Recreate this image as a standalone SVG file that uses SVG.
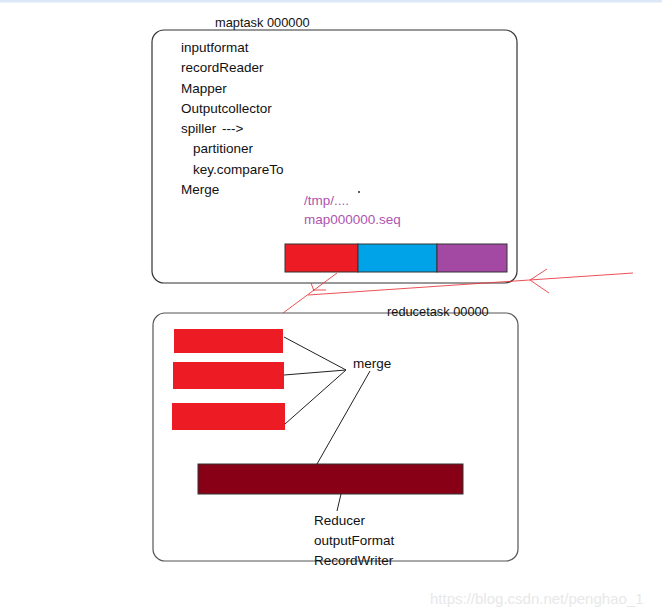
<svg xmlns="http://www.w3.org/2000/svg" width="662" height="614" viewBox="0 0 662 614">
<style>
text{font-family:"Liberation Sans",Arial,sans-serif;font-size:13.5px;fill:#111}
.t{font-size:12.8px}
.p{fill:#ad55b0}
.box{fill:#fff;stroke:#333;stroke-width:1.2}
.bar{stroke:#333;stroke-width:1}
.k{stroke:#222;stroke-width:1;fill:none}
.r{stroke:#e8323a;stroke-width:1;fill:none;opacity:0.85}
</style>
<rect x="0" y="0" width="662" height="614" fill="#fff"/>
<rect x="0" y="0" width="662" height="2.5" fill="#dce8f5"/>
<g id="maptask">
<rect class="box" x="152" y="30" width="365" height="253" rx="12"/>
<text class="t" x="215" y="27">maptask 000000</text>
<text x="181" y="52">inputformat</text>
<text x="181" y="72">recordReader</text>
<text x="181" y="93">Mapper</text>
<text x="181" y="113">Outputcollector</text>
<text x="181" y="133">spiller<tspan x="222">---&gt;</tspan></text>
<text x="193" y="153">partitioner</text>
<text x="193" y="174">key.compareTo</text>
<text x="181" y="194">Merge</text>
<circle cx="359" cy="192" r="0.9" fill="#111"/>
<text class="p" x="304" y="205">/tmp/....</text>
<text class="p" x="304" y="224">map000000.seq</text>
</g>
<g id="spillfile">
<rect class="bar" x="285" y="244" width="73" height="28" fill="#ed1c24"/>
<rect class="bar" x="358" y="244" width="79" height="28" fill="#00a2e8"/>
<rect class="bar" x="437" y="244" width="70" height="28" fill="#a349a4"/>
</g>
<g id="reducetask">
<rect class="box" x="153" y="313" width="365" height="248" rx="12" style="stroke:#555"/>
<text class="t" x="387" y="316">reducetask 00000</text>
<rect x="174" y="329" width="109" height="24" fill="#ed1c24"/>
<rect x="173" y="362" width="111" height="27" fill="#ed1c24"/>
<rect x="172" y="403" width="113" height="27" fill="#ed1c24"/>
<text x="353" y="368">merge</text>
<rect x="198" y="464" width="265" height="30" fill="#880015" stroke="#333" stroke-width="1"/>
<text x="314" y="525">Reducer</text>
<text x="314" y="545">outputFormat</text>
<text x="314" y="565">RecordWriter</text>
</g>
<g id="connectors">
<line class="k" x1="284" y1="337" x2="346" y2="370"/>
<line class="k" x1="284" y1="375" x2="346" y2="370"/>
<line class="k" x1="285" y1="424" x2="346" y2="370"/>
<line class="k" x1="370" y1="371" x2="317" y2="464"/>
<line class="k" x1="341" y1="494" x2="337" y2="511"/>
<line class="r" x1="337" y1="273" x2="283" y2="313"/>
<line class="r" x1="633" y1="273" x2="308" y2="295"/>
<line class="r" x1="530" y1="280" x2="547" y2="269"/>
<line class="r" x1="530" y1="280" x2="549" y2="293"/>
<line class="r" x1="311" y1="283" x2="314" y2="291"/>
<line class="r" x1="314" y1="290" x2="326" y2="290"/>
</g>
<text x="430" y="604" style="font-size:15px;fill:#e8e8e8">https://blog.csdn.net/penghao_1</text>
</svg>
